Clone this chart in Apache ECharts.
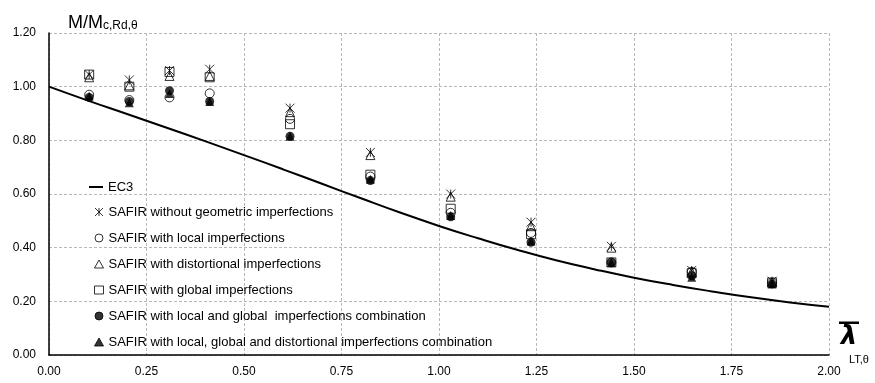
<!DOCTYPE html>
<html>
<head>
<meta charset="utf-8">
<script src="https://cdn.jsdelivr.net/npm/echarts@6/dist/echarts.min.js"></script>
<style>
html,body{margin:0;padding:0;background:#fff;}
#chart{width:875px;height:383px;}
</style>
</head>
<body>
<div id="chart"></div>
<script>
// EC3 curve
const ec3X = [0, 0.1, 0.2, 0.3, 0.4, 0.5, 0.6, 0.7, 0.8, 0.9, 1.0, 1.1, 1.2, 1.3, 1.4, 1.5, 1.6, 1.7, 1.8, 1.9, 2.0];
const ec3Y = [1.000, 0.948, 0.898, 0.848, 0.797, 0.745, 0.692, 0.638, 0.584, 0.531, 0.481, 0.435, 0.392, 0.353, 0.319, 0.288, 0.261, 0.237, 0.215, 0.196, 0.180];

// SAFIR results
const lambdaX = [0.103, 0.206, 0.309, 0.412, 0.618, 0.824, 1.03, 1.236, 1.442, 1.648, 1.854];
const noImp      = [1.045, 1.025, 1.060, 1.065, 0.920, 0.755, 0.600, 0.495, 0.405, 0.315, 0.275];
const localImp   = [0.970, 0.950, 0.960, 0.975, 0.880, 0.665, 0.530, 0.455, 0.345, 0.310, 0.270];
const distImp    = [1.035, 1.005, 1.040, 1.040, 0.905, 0.745, 0.590, 0.480, 0.400, 0.310, 0.270];
const globalImp  = [1.045, 1.000, 1.055, 1.035, 0.860, 0.672, 0.545, 0.450, 0.345, 0.305, 0.270];
const locGlob    = [0.960, 0.945, 0.985, 0.945, 0.815, 0.650, 0.515, 0.420, 0.345, 0.295, 0.265];
const locGlobDist= [0.965, 0.940, 0.975, 0.945, 0.815, 0.655, 0.520, 0.425, 0.345, 0.290, 0.265];

const names = [
  'EC3',
  'SAFIR without geometric imperfections',
  'SAFIR with local imperfections',
  'SAFIR with distortional imperfections',
  'SAFIR with global imperfections',
  'SAFIR with local and global  imperfections combination',
  'SAFIR with local, global and distortional imperfections combination'
];

function pairs(xs, ys) { return xs.map((x, i) => [x, ys[i]]); }

const asterisk = 'path://M0,0L10,10M10,0L0,10M5,0L5,10';
const hollow = {color: 'rgba(0,0,0,0)', borderColor: '#000', borderWidth: 1};
const filled = {color: '#000', borderColor: '#000', borderWidth: 0};

const chart = echarts.init(document.getElementById('chart'), null, {renderer: 'canvas'});
const font = 'Liberation Sans, Arial, sans-serif';
const legendText = {fontSize: 13, color: '#000', fontFamily: font, lineHeight: 13};

chart.setOption({
  animation: false,
  textStyle: {fontFamily: font},
  title: {
    text: '{a|M/M}{b|c,Rd,θ}',
    left: 63, top: 7,
    textStyle: {
      fontWeight: 'normal',
      rich: {
        a: {fontSize: 18, fontFamily: font, fontWeight: 'normal', color: '#000', verticalAlign: 'bottom'},
        b: {fontSize: 12, fontFamily: font, fontWeight: 'normal', color: '#000', padding: [8, 0, 0, 0], verticalAlign: 'bottom'}
      }
    }
  },
  grid: {left: 49, right: 46, top: 33, bottom: 28, containLabel: false},
  legend: [
    {
      orient: 'vertical', left: 89, top: 180.5, padding: 0,
      itemWidth: 14, itemHeight: 2, icon: 'rect',
      textStyle: legendText,
      data: [names[0]]
    },
    {
      orient: 'vertical', left: 94, top: 205.5, padding: 0,
      itemWidth: 9, itemHeight: 8,
      itemGap: 13,
      itemStyle: {borderWidth: 1},
      textStyle: legendText,
      data: names.slice(1)
    }
  ],
  xAxis: {
    type: 'value', min: 0, max: 2, interval: 0.25,
    axisLine: {show: true, lineStyle: {color: '#000', width: 1.5}},
    axisTick: {show: false},
    axisLabel: {fontSize: 12, color: '#000', margin: 11, formatter: v => v.toFixed(2)},
    splitLine: {show: true, lineStyle: {color: '#b8b8b8', type: [3, 2], width: 1}}
  },
  yAxis: {
    type: 'value', min: 0, max: 1.2, interval: 0.2,
    axisLine: {show: true, lineStyle: {color: '#000', width: 1.5}},
    axisTick: {show: false},
    axisLabel: {fontSize: 12, color: '#000', margin: 13, formatter: v => v.toFixed(2)},
    splitLine: {show: true, lineStyle: {color: '#b8b8b8', type: [3, 2], width: 1}}
  },
  graphic: [
    {type: 'text', x: 849, y: 350, style: {text: 'λ', font: 'italic bold 26px DejaVu Sans', fill: '#000', textAlign: 'center', textVerticalAlign: 'bottom'}},
    {type: 'rect', shape: {x: 839, y: 321.5, width: 20, height: 2.5}, style: {fill: '#000'}},
    {type: 'text', x: 849, y: 354, style: {text: 'LT,θ', font: '11px Liberation Sans', fill: '#000'}}
  ],
  series: [
    {name: names[0], type: 'line', data: pairs(ec3X, ec3Y), smooth: true, symbol: 'none', showSymbol: false,
      lineStyle: {color: '#000', width: 2}, itemStyle: {color: '#000'}, z: 2},
    {name: names[1], type: 'scatter', data: pairs(lambdaX, noImp), symbol: asterisk, symbolSize: 9,
      itemStyle: hollow, z: 3},
    {name: names[2], type: 'scatter', data: pairs(lambdaX, localImp), symbol: 'circle', symbolSize: 9,
      itemStyle: hollow, z: 3},
    {name: names[3], type: 'scatter', data: pairs(lambdaX, distImp), symbol: 'triangle', symbolSize: 9,
      itemStyle: hollow, z: 3},
    {name: names[4], type: 'scatter', data: pairs(lambdaX, globalImp), symbol: 'rect', symbolSize: 9,
      itemStyle: hollow, z: 3},
    {name: names[5], type: 'scatter', data: pairs(lambdaX, locGlob), symbol: 'circle', symbolSize: 9,
      itemStyle: filled, z: 4},
    {name: names[6], type: 'scatter', data: pairs(lambdaX, locGlobDist), symbol: 'triangle', symbolSize: 9,
      itemStyle: filled, z: 4}
  ]
});
</script>
</body>
</html>
